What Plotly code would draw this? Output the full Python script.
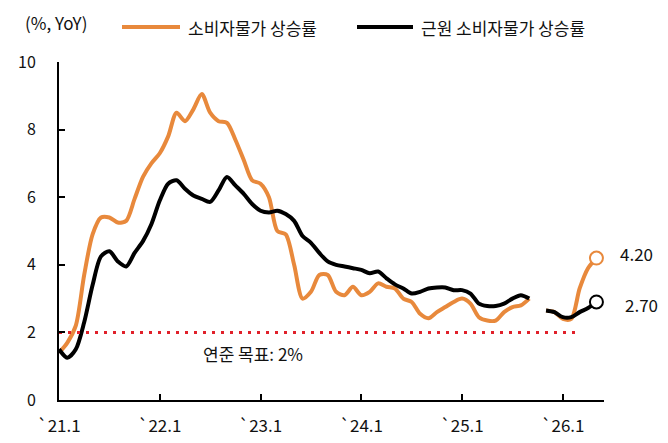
import plotly.graph_objects as go

# ---------------- data ----------------
months = [f"{y}-{m:02d}" for y in range(2021, 2027) for m in range(1, 13)][:65]  # 2021-01 .. 2026-05

cpi = [
    1.4, 1.7, 2.2, 3.7, 4.9, 5.4, 5.4, 5.25, 5.3, 5.95, 6.6, 7.0,      # 2021
    7.3, 7.8, 8.5, 8.25, 8.6, 9.05, 8.5, 8.25, 8.2, 7.7, 7.1, 6.5,     # 2022
    6.4, 6.0, 5.0, 4.9, 4.0, 3.0, 3.2, 3.7, 3.7, 3.2, 3.1, 3.35,       # 2023
    3.1, 3.2, 3.45, 3.35, 3.3, 3.0, 2.9, 2.55, 2.42, 2.6, 2.75, 2.9,   # 2024
    3.0, 2.85, 2.45, 2.35, 2.35, 2.6, 2.75, 2.8, 3.0, None, 2.65, 2.6, # 2025
    2.4, 2.4, 3.3, 3.9, 4.2,                                           # 2026
]
core = [
    1.5, 1.25, 1.5, 2.3, 3.4, 4.25, 4.4, 4.1, 3.95, 4.35, 4.7, 5.2,     # 2021
    5.9, 6.4, 6.5, 6.25, 6.05, 5.95, 5.86, 6.2, 6.6, 6.35, 6.1, 5.8,   # 2022
    5.6, 5.55, 5.6, 5.5, 5.3, 4.85, 4.65, 4.35, 4.1, 4.0, 3.95, 3.9,   # 2023
    3.85, 3.75, 3.8, 3.6, 3.42, 3.3, 3.15, 3.2, 3.3, 3.33, 3.33, 3.25, # 2024
    3.25, 3.15, 2.85, 2.78, 2.78, 2.85, 3.0, 3.1, 3.0, None, 2.65, 2.6,# 2025
    2.45, 2.45, 2.6, 2.72, 2.9,                                        # 2026
]
series_names = ["소비자물가 상승률", "근원 소비자물가 상승률"]
end_labels = ["4.20", "2.70"]
target = 2.0
target_label = "연준 목표: 2%"
target_end = "2026-03"
tick_months = ["2021-01", "2022-01", "2023-01", "2024-01", "2025-01", "2026-01"]
tick_text = ["`21.1", "`22.1", "`23.1", "`24.1", "`25.1", "`26.1"]
y_ticks = [0, 2, 4, 6, 8, 10]
unit_label = "(%, YoY)"

# ---------------- style ----------------
ORANGE = "#E8893C"
BLACK = "#000000"
RED = "#E0202A"
FONT = "Noto Sans CJK KR"
colors = [ORANGE, BLACK]

W, H = 668, 443
ML, MR, MT, MB = 59, 64, 62, 43
PW, PH = W - ML - MR, H - MT - MB

fig = go.Figure()

for vals, col, name in zip([cpi, core], colors, series_names):
    fig.add_trace(go.Scatter(
        x=months, y=vals, mode="lines", name=name,
        line=dict(color=col, width=4, shape="spline", smoothing=0.8),
        connectgaps=False, showlegend=False))

# target line (drawn on top like the reference)
t_end = months.index(target_end)
fig.add_trace(go.Scatter(
    x=months[:t_end + 1], y=[target] * (t_end + 1), mode="lines",
    line=dict(color=RED, width=3, dash="3px,6px"), hoverinfo="skip", showlegend=False))

# end markers
for vals, col in zip([cpi, core], colors):
    fig.add_trace(go.Scatter(
        x=[months[-1]], y=[vals[-1]], mode="markers",
        marker=dict(symbol="circle", size=13, color="white", line=dict(color=col, width=2)),
        showlegend=False, cliponaxis=False))

annotations = []
# end labels
for vals, lab, xs, ys in zip([cpi, core], end_labels, [40, 45], [5, -3]):
    annotations.append(dict(x=len(months) - 1, y=vals[-1], xref="x", yref="y", text=lab,
                            showarrow=False, xshift=xs, yshift=ys,
                            font=dict(family=FONT, size=17, color="#111")))
# target label
annotations.append(dict(x=23.1, y=target, xref="x", yref="y", text=target_label,
                        showarrow=False, yshift=-21,
                        font=dict(family=FONT, size=17, color="#111")))
# unit label
annotations.append(dict(x=(56 - ML) / PW, y=(H - MB - 22) / PH, xref="paper", yref="paper",
                        text=unit_label, showarrow=False, xanchor="center", yanchor="middle",
                        font=dict(family=FONT, size=17, color="#111")))

# manual legend
shapes = []
leg_items = [(122, 180, 186), (357, 413, 419)]
leg_y = (H - MB - 27) / PH
for (x0, x1, tx), col, name in zip(leg_items, colors, series_names):
    shapes.append(dict(type="line", xref="paper", yref="paper",
                       x0=(x0 - ML) / PW, x1=(x1 - ML) / PW, y0=leg_y, y1=leg_y,
                       line=dict(color=col, width=4)))
    annotations.append(dict(x=(tx - ML) / PW, y=leg_y, xref="paper", yref="paper", text=name,
                            showarrow=False, xanchor="left", yanchor="middle",
                            font=dict(family=FONT, size=17, color="#111")))

fig.update_layout(
    width=W, height=H,
    margin=dict(l=ML, r=MR, t=MT, b=MB, pad=0, autoexpand=False),
    paper_bgcolor="white", plot_bgcolor="white",
    font=dict(family=FONT, size=16, color="#111"),
    annotations=annotations, shapes=shapes,
    showlegend=False,
    xaxis=dict(type="category", categoryorder="array", categoryarray=months,
               range=[0, 64.9], tickmode="array",
               tickvals=tick_months, ticktext=tick_text, automargin=False,
               showline=True, linecolor=BLACK, linewidth=2,
               ticks="inside", ticklen=6, tickwidth=2, tickcolor=BLACK,
               showgrid=False, zeroline=False, ticklabelstandoff=10,
               tickfont=dict(family=FONT, size=17, color="#111")),
    yaxis=dict(range=[0, 10], tickmode="array", tickvals=y_ticks, automargin=False,
               showline=True, linecolor=BLACK, linewidth=2,
               ticks="inside", ticklen=6, tickwidth=2, tickcolor=BLACK,
               showgrid=False, zeroline=False, ticklabelstandoff=18,
               tickfont=dict(family=FONT, size=16, color="#111")),
)

fig.write_html("out.html")
